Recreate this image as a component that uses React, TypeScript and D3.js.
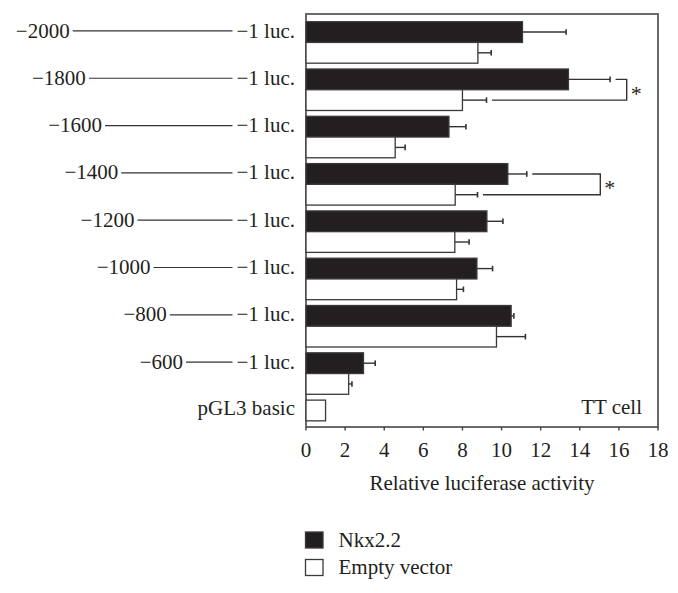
import { useEffect, useRef } from "react";
import * as d3 from "d3";

// promoter constructs, top to bottom
const constructs = ["-2000", "-1800", "-1600", "-1400", "-1200", "-1000", "-800", "-600", "pGL3 basic"];
const promoterStarts = [-2000, -1800, -1600, -1400, -1200, -1000, -800, -600, null];
const series = ["Nkx2.2", "Empty vector"];
const nkxValues = [11.07, 13.42, 7.31, 10.32, 9.25, 8.74, 10.49, 2.94, null];
const nkxErrors = [2.23, 2.13, 0.87, 0.97, 0.82, 0.8, 0.14, 0.6, null];
const emptyValues = [8.79, 8.0, 4.56, 7.63, 7.61, 7.7, 9.74, 2.18, 1.0];
const emptyErrors = [0.68, 1.23, 0.51, 1.14, 0.73, 0.35, 1.48, 0.17, 0];
const sigGroups = ["-1800", "-1400"];
const sigBracketAt = [16.4, 15.05];
const xTicks = [0, 2, 4, 6, 8, 10, 12, 14, 16, 18];

const App = () => {
  const svgRef = useRef<SVGSVGElement | null>(null);
  const width = 678;
  const height = 593;
  const box = { left: 306, right: 658, top: 14, bottom: 427 };
  const font = "'Liberation Serif', 'Times New Roman', serif";

  useEffect(() => {
    const svg = d3.select(svgRef.current);
    svg.selectAll("*").remove();

    const x = d3.scaleLinear().domain([0, 18]).range([box.left, box.right]);
    const y = d3.scaleBand<string>().domain(constructs).range([21.7, 441.6]).paddingInner(0.123);
    const sub = d3.scaleBand<string>().domain(series).range([0, y.bandwidth()]);
    // promoter line start positions (bp -> px)
    const bp = d3.scaleLinear().domain([-2000, -600]).range([72.7, 186]);

    const rows = constructs.map((name, i) => ({
      name,
      start: promoterStarts[i],
      nkx: nkxValues[i],
      nkxErr: nkxErrors[i],
      empty: emptyValues[i],
      emptyErr: emptyErrors[i],
    }));

    // plot frame
    svg
      .append("rect")
      .attr("x", box.left)
      .attr("y", box.top)
      .attr("width", box.right - box.left)
      .attr("height", box.bottom - box.top)
      .attr("fill", "none")
      .attr("stroke", "#5a5a5a")
      .attr("stroke-width", 1.8);

    const g = svg.append("g");

    rows.forEach((r) => {
      const top = y(r.name)!;
      const bh = sub.bandwidth();
      const bars: { v: number; e: number; yy: number; fill: string }[] = [];
      if (r.nkx != null) {
        bars.push({ v: r.nkx, e: r.nkxErr!, yy: top + sub("Nkx2.2")!, fill: "#231f20" });
        bars.push({ v: r.empty, e: r.emptyErr, yy: top + sub("Empty vector")!, fill: "#fff" });
      } else {
        bars.push({ v: r.empty, e: r.emptyErr, yy: top, fill: "#fff" });
      }
      bars.forEach((b) => {
        g.append("rect")
          .attr("x", x(0))
          .attr("y", b.yy)
          .attr("width", x(b.v) - x(0))
          .attr("height", bh)
          .attr("fill", b.fill)
          .attr("stroke", "#3a3a3a")
          .attr("stroke-width", 1.3);
        if (b.e > 0) {
          const cy = b.yy + bh / 2;
          g.append("line")
            .attr("x1", x(b.v))
            .attr("x2", x(b.v + b.e))
            .attr("y1", cy)
            .attr("y2", cy)
            .attr("stroke", "#333")
            .attr("stroke-width", 1.4);
          g.append("line")
            .attr("x1", x(b.v + b.e))
            .attr("x2", x(b.v + b.e))
            .attr("y1", cy - 2.8)
            .attr("y2", cy + 2.8)
            .attr("stroke", "#333")
            .attr("stroke-width", 1.6);
        }
      });

      // left labels
      if (r.start != null) {
        const baseline = top + sub.bandwidth() * 0.5 + 5.5;
        const ly = baseline - 6.6;
        const ls = bp(r.start);
        const luc = g
          .append("text")
          .attr("x", 295)
          .attr("y", baseline)
          .attr("text-anchor", "end")
          .attr("font-family", font)
          .attr("font-size", 21)
          .text("\u22121 luc.");
        const lucWidth = (luc.node() as SVGTextElement).getComputedTextLength();
        g.append("line")
          .attr("x1", ls)
          .attr("x2", 295 - lucWidth - 4)
          .attr("y1", ly)
          .attr("y2", ly)
          .attr("stroke", "#333")
          .attr("stroke-width", 1.2);
        g.append("text")
          .attr("x", ls - 3)
          .attr("y", baseline)
          .attr("text-anchor", "end")
          .text("\u2212" + r.name.replace("-", ""));
      } else {
        g.append("text")
          .attr("x", 295)
          .attr("y", top + sub.bandwidth() / 2 + 5)
          .attr("text-anchor", "end")
          .text(r.name);
      }
    });

    // significance brackets
    sigGroups.forEach((name, i) => {
      const r = rows.find((d) => d.name === name)!;
      const top = y(name)!;
      const y1 = top + sub("Nkx2.2")! + sub.bandwidth() / 2;
      const y2 = top + sub("Empty vector")! + sub.bandwidth() / 2;
      const bx = x(sigBracketAt[i]);
      const path = d3.path();
      path.moveTo(x(r.nkx! + r.nkxErr!) + 5.5, y1);
      path.lineTo(bx, y1);
      path.lineTo(bx, y2);
      path.lineTo(x(r.empty + r.emptyErr) + 5.5, y2);
      g.append("path")
        .attr("d", path.toString())
        .attr("fill", "none")
        .attr("stroke", "#333")
        .attr("stroke-width", 1.4);
      g.append("text")
        .attr("x", bx + 4)
        .attr("y", (y1 + y2) / 2 + 11)
        .attr("font-size", 22)
        .text("*");
    });

    // x axis ticks
    const axis = svg.append("g");
    xTicks.forEach((t) => {
      axis
        .append("line")
        .attr("x1", x(t))
        .attr("x2", x(t))
        .attr("y1", box.bottom)
        .attr("y2", box.bottom + 3.5)
        .attr("stroke", "#444")
        .attr("stroke-width", 1.4);
      axis
        .append("text")
        .attr("x", x(t))
        .attr("y", 456.5)
        .attr("text-anchor", "middle")
        .text(t);
    });

    axis
      .append("text")
      .attr("x", (box.left + box.right) / 2)
      .attr("y", 490)
      .attr("text-anchor", "middle")
      .text("Relative luciferase activity");

    svg
      .append("text")
      .attr("x", 642)
      .attr("y", 414)
      .attr("text-anchor", "end")
      .text("TT cell");

    // legend
    const legend = svg.append("g");
    series.forEach((s, i) => {
      legend
        .append("rect")
        .attr("x", 305.5)
        .attr("y", 532 + i * 27.5)
        .attr("width", 17.5)
        .attr("height", 16)
        .attr("fill", i === 0 ? "#231f20" : "#fff")
        .attr("stroke", "#3a3a3a")
        .attr("stroke-width", 1.3);
      legend
        .append("text")
        .attr("x", 338.5)
        .attr("y", 546.5 + i * 27)
        .text(s);
    });

    svg.selectAll("text").attr("font-family", font).attr("fill", "#231f20");
    svg.selectAll("text:not([font-size])").attr("font-size", 21);
  }, []);

  return (
    <svg
      ref={svgRef}
      width={width}
      height={height}
      style={{ position: "absolute", left: 0, top: 0, background: "#fff" }}
    />
  );
};

export default App;
